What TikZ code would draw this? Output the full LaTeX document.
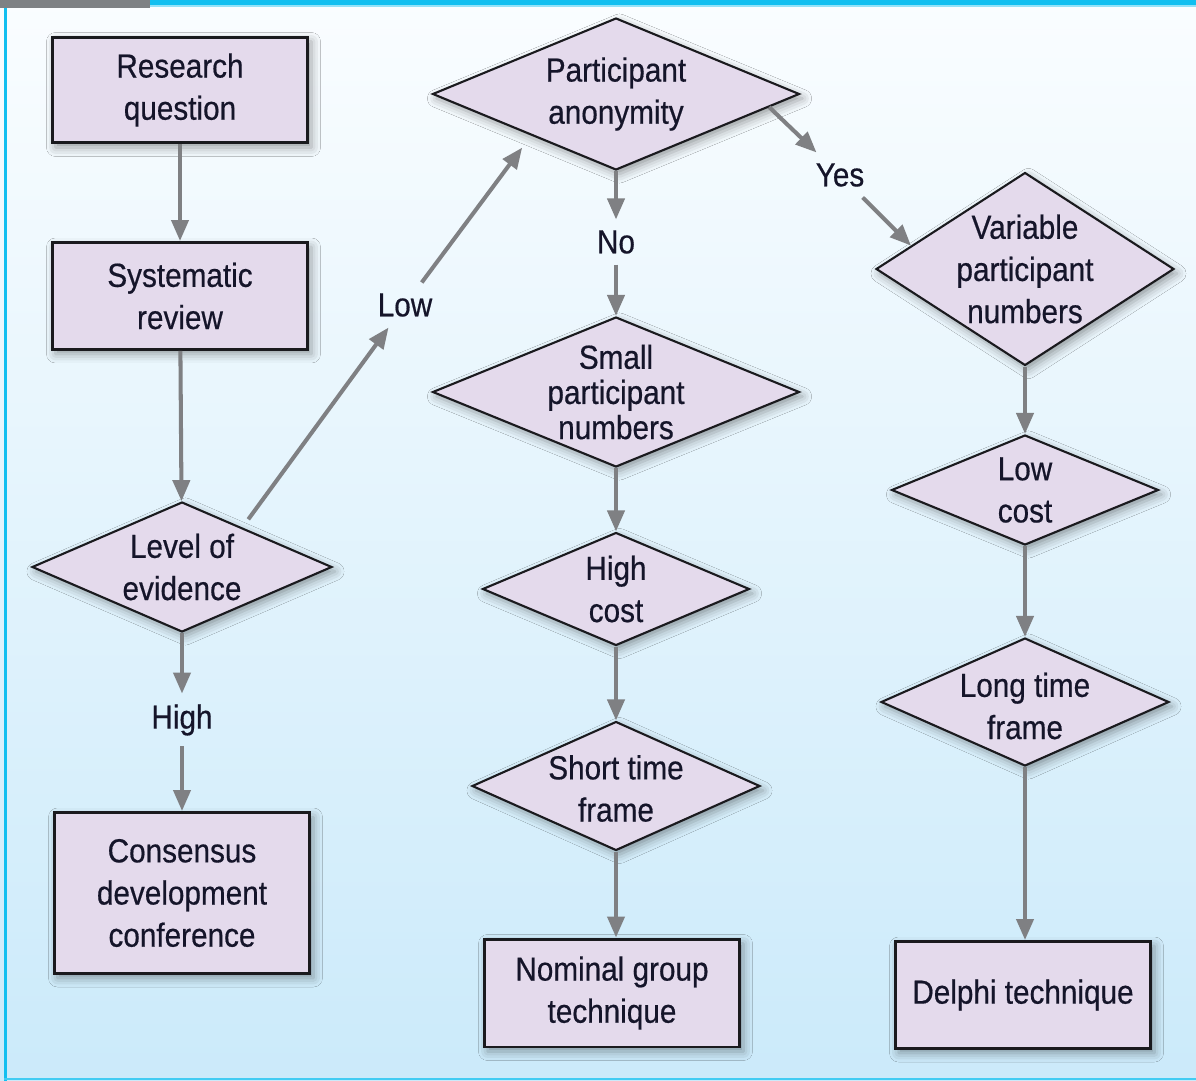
\documentclass[tikz,border=0pt]{standalone}
\usepackage{fontspec}
\setmainfont{Liberation Sans}[FakeStretch=0.89,FakeBold=0.5]
\usetikzlibrary{shapes.geometric,arrows.meta,calc,shadows.blur}

\definecolor{boxfill}{HTML}{E4DAEC}
\definecolor{boxline}{HTML}{1A1A1E}
\definecolor{arrowgray}{HTML}{7F8083}
\definecolor{inkcol}{HTML}{15152A}
\definecolor{framecyan}{HTML}{12BFF0}
\definecolor{tabgray}{HTML}{7E8184}
\definecolor{bgtop}{HTML}{FAFDFF}
\definecolor{bgbottom}{HTML}{CBEAFA}

\begin{document}
\begin{tikzpicture}[x=0.02cm,y=-0.02cm,
  every node/.style={font=\fontsize{19}{24}\selectfont, text=inkcol},
  softshadow/.style={blur shadow={shadow xshift=0.07cm, shadow yshift=-0.09cm,
      shadow blur radius=0.18cm, shadow opacity=38}},
  proc/.style={rectangle, draw=boxline, line width=1.7pt, fill=boxfill,
      minimum width=5.12cm, align=center, inner sep=0pt, softshadow},
  dec/.style={diamond, draw=boxline, line width=1.2pt, fill=boxfill,
      inner sep=0pt, softshadow},
  dtext/.style={align=center, inner sep=0pt},
  tag/.style={inner sep=6pt},
  arr/.style={draw=arrowgray, line width=2.3pt,
      -{Triangle[length=0.42cm,width=0.34cm]}}
]
\useasboundingbox (0,0) rectangle (1196,1081);

% page background and frame
\shade[top color=bgtop, bottom color=bgbottom] (0,0) rectangle (1196,1081);
\fill[framecyan] (150,0) rectangle (1196,5);
\fill[framecyan!45] (150,5) rectangle (1196,7);
\fill[tabgray] (0,0) rectangle (150,8);
\fill[framecyan] (4,8) rectangle (6.5,1081);
\fill[framecyan!80] (4,1077.5) rectangle (1196,1080);

% left column
\node[proc, minimum height=2.12cm] (rq) at (180,90) {Research\\question};
\node[proc, minimum height=2.14cm] (sr) at (180,296) {Systematic\\review};
\node[dec, minimum width=6.0cm, minimum height=2.6cm] (loe) at (182,567) {};
\node[dtext] (loe-t) at (loe) {Level of\\evidence};
\node[proc, minimum height=3.22cm] (cdc) at (182,893) {Consensus\\development\\conference};

% middle column
\node[dec, minimum width=7.34cm, minimum height=3.04cm] (pa) at (616,94) {};
\node[dtext] (pa-t) at (pa) {Participant\\anonymity};
\node[dec, minimum width=7.34cm, minimum height=3.0cm] (spn) at (616,392) {};
\node[dtext, font=\fontsize{19}{20}\selectfont] (spn-t) at (spn) {Small\\participant\\numbers};
\node[dec, minimum width=5.34cm, minimum height=2.26cm] (hc) at (616,589) {};
\node[dtext] (hc-t) at (hc) {High\\cost};
\node[dec, minimum width=5.76cm, minimum height=2.58cm] (stf) at (616,786) {};
\node[dtext] (stf-t) at ([yshift=-0.05cm]stf) {Short time\\frame};
\node[proc, minimum height=2.16cm] (ngt) at (612,993) {Nominal group\\technique};

% right column
\node[dec, minimum width=5.96cm, minimum height=3.86cm] (vpn) at (1025,269) {};
\node[dtext] (vpn-t) at (vpn) {Variable\\participant\\numbers};
\node[dec, minimum width=5.34cm, minimum height=2.2cm] (lc) at (1025,490) {};
\node[dtext] (lc-t) at (lc) {Low\\cost};
\node[dec, minimum width=5.76cm, minimum height=2.56cm] (ltf) at (1025,702) {};
\node[dtext] (ltf-t) at ([yshift=-0.08cm]ltf) {Long time\\frame};
\node[proc, minimum height=2.14cm] (dt) at (1023,995) {Delphi technique};

% branch labels
\node[tag] (low) at (405,305) {Low};
\node[tag] (high) at (182,720) {High};
\node[tag] (no) at (616,242) {No};
\node[tag] (yes) at (840,175) {Yes};

% connectors
\draw[arr] (rq) -- (sr);
\draw[arr] (sr) -- (loe);
\draw[arr] (loe) -- (high);
\draw[arr] (high) -- (cdc);
\draw[arr, shorten <=0.2cm] ($(loe.north)!0.4!(loe.east)$) -- (low);
\draw[arr, shorten >=0.3cm] (low) -- ($(pa.west)!0.54!(pa.south)$);
\draw[arr] (pa) -- (no);
\draw[arr] (no) -- (spn);
\draw[arr] ($(pa.east)!0.17!(pa.south)$) -- (yes);
\draw[arr] (yes) -- ($(vpn.west)!0.24!(vpn.north)$);
\draw[arr] (spn) -- (hc);
\draw[arr] (hc) -- (stf);
\draw[arr] (stf) -- (stf |- ngt.north);
\draw[arr] (vpn) -- (lc);
\draw[arr] (lc) -- (ltf);
\draw[arr] (ltf) -- (ltf |- dt.north);
\end{tikzpicture}
\end{document}
